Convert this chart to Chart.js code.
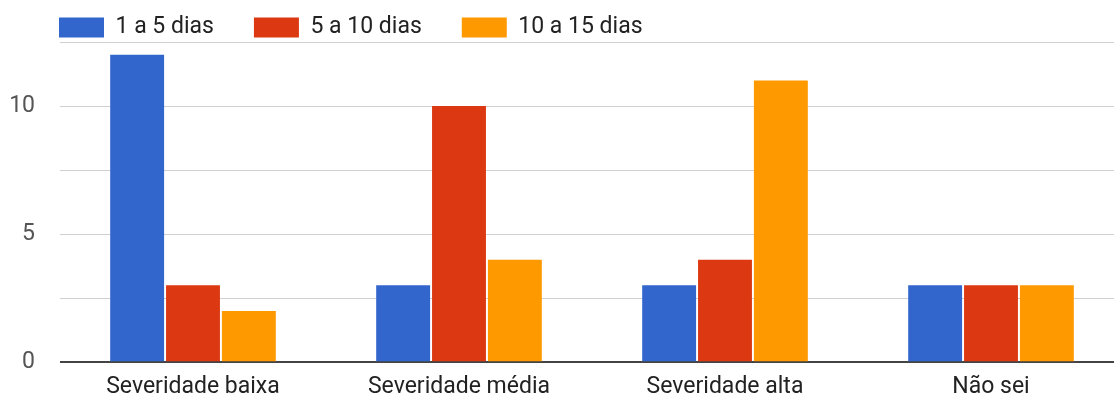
<!DOCTYPE html>
<html>
<head>
<meta charset="utf-8">
<script src="https://cdn.jsdelivr.net/npm/chart.js@4/dist/chart.umd.min.js"></script>
<style>
  html, body { margin: 0; padding: 0; background: #fff; overflow: hidden; }
  #wrap { width: 1124px; height: 401px; }
</style>
</head>
<body>
<div id="wrap"><canvas id="grafico"></canvas></div>
<script>
const categorias = ['Severidade baixa', 'Severidade média', 'Severidade alta', 'Não sei']
const series = ['1 a 5 dias', '5 a 10 dias', '10 a 15 dias']
const umACinco = [12, 3, 3, 3]
const cincoADez = [3, 10, 4, 3]
const dezAQuinze = [2, 4, 11, 3]
const cores = ['#3366cc', '#dc3912', '#ff9900']

// a legenda ocupa menos altura do que o chart.js calcula
// e começa um pouco mais para a direita
const legendaCompacta = {
    id: 'legendaCompacta',
    beforeLayout(chart) {
        const lg = chart.legend
        if (!lg || lg._ajustada) return
        const fitOriginal = lg.fit
        lg.fit = function () {
            fitOriginal.call(this)
            this.height = 66
        }
        lg._ajustada = true
    },
    afterLayout(chart) {
        const lg = chart.legend
        if (!lg) return
        lg.left += 19
        lg.right += 19
    }
}

const fonte = 'Roboto, "Liberation Sans", Arial, sans-serif'

new Chart(document.getElementById('grafico'), {
    type: 'bar',
    data: {
        labels: categorias,
        datasets: [umACinco, cincoADez, dezAQuinze].map((valores, i) => ({
            label: series[i],
            data: valores,
            backgroundColor: cores[i],
            borderWidth: 0,
            barPercentage: 0.965,
            categoryPercentage: 0.63
        }))
    },
    options: {
        responsive: true,
        maintainAspectRatio: false,
        animation: false,
        layout: { padding: { top: -24, left: 0, right: 0, bottom: 0 } },
        plugins: {
            legend: {
                position: 'top',
                align: 'start',
                labels: {
                    boxWidth: 45,
                    boxHeight: 20,
                    padding: 40,
                    color: '#222',
                    font: { family: fonte, size: 23 }
                }
            },
            tooltip: { enabled: false }
        },
        scales: {
            x: {
                grid: { display: false, drawTicks: false },
                border: { display: false },
                ticks: {
                    color: '#222',
                    padding: 11,
                    font: { family: fonte, size: 23 }
                },
                afterFit(scale) { scale.height = 37 }
            },
            y: {
                min: 0,
                max: 12.5,
                border: { display: false },
                grid: {
                    drawTicks: false,
                    color: (ctx) => ctx.tick && ctx.tick.value === 0 ? '#444' : '#d0d0d0',
                    lineWidth: (ctx) => ctx.tick && ctx.tick.value === 0 ? 2 : 1
                },
                ticks: {
                    stepSize: 2.5,
                    color: '#555',
                    padding: 25,
                    font: { family: fonte, size: 23 },
                    callback: (v) => v % 5 === 0 ? v : ''
                },
                afterFit(scale) { scale.width = 60 }
            }
        }
    },
    plugins: [legendaCompacta]
})
</script>
</body>
</html>
